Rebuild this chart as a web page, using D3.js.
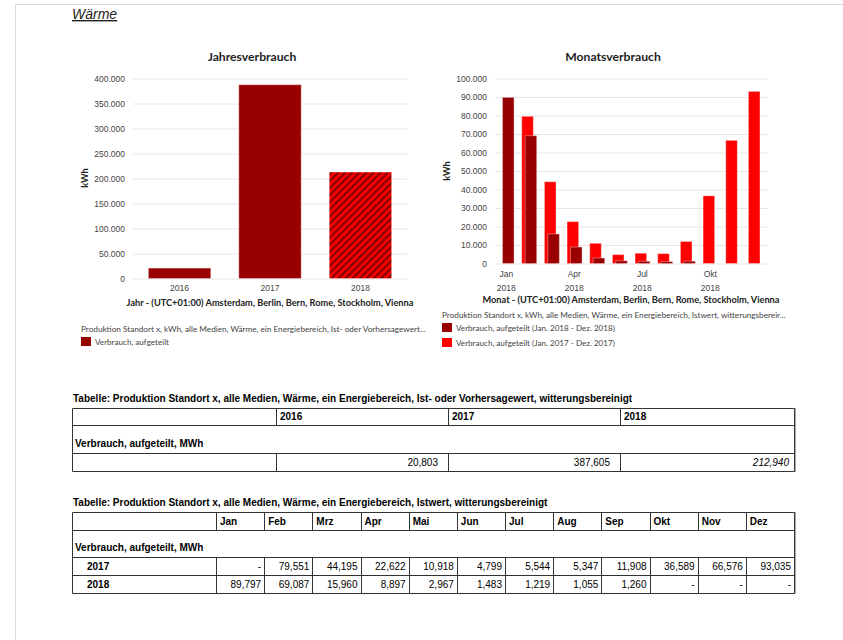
<!DOCTYPE html>
<html>
<head>
<meta charset="utf-8">
<script src="https://cdn.jsdelivr.net/npm/d3@7"></script>
<style>
  body { margin: 0; background: #fff; }
  svg { display: block; }
  .heading   { font: italic 14px "Liberation Sans", Arial, sans-serif; fill: #222; text-decoration: underline; }
  .ch-title  { font: bold 12.2px Lato, sans-serif; fill: #222; }
  .ax-title  { font: bold 9.2px Lato, sans-serif; fill: #222; }
  .tick-lbl  { font: 8.5px "Liberation Sans", Arial, sans-serif; fill: #444; }
  .lg-title  { font: 8.2px Lato, sans-serif; fill: #444; }
  .lg-item   { font: 8.1px Lato, sans-serif; fill: #444; }
  .tb-cap    { font: bold 10px "Liberation Sans", Arial, sans-serif; fill: #000; }
  .tb-bold   { font: bold 10px "Liberation Sans", Arial, sans-serif; fill: #000; }
  .tb-num    { font: 10px "Liberation Sans", Arial, sans-serif; fill: #000; }
</style>
</head>
<body>
<svg id="page" width="843" height="640"></svg>
<script>
'use strict';

// ── Data ─────────────────────────────────────────────────────
const years        = ['2016', '2017', '2018'];
const annualValues = [20803, 387605, 212940];
const annualTicks  = [0, 50000, 100000, 150000, 200000, 250000, 300000, 350000, 400000];

const months       = ['Jan', 'Feb', 'Mrz', 'Apr', 'Mai', 'Jun', 'Jul', 'Aug', 'Sep', 'Okt', 'Nov', 'Dez'];
const cons2017     = [null, 79551, 44195, 22622, 10918, 4799, 5544, 5347, 11908, 36589, 66576, 93035];
const cons2018     = [89797, 69087, 15960, 8897, 2967, 1483, 1219, 1055, 1260, null, null, null];
const monthlyTicks = [0, 10000, 20000, 30000, 40000, 50000, 60000, 70000, 80000, 90000, 100000];
const monthLabels  = ['Jan', 'Apr', 'Jul', 'Okt'];
const monthYear    = '2018';

const DARK = '#990000';
const RED  = '#ff0000';

const deFmt = d3.formatLocale({ decimal: ',', thousands: '.', grouping: [3], currency: ['', '€'] }).format(',');
const enFmt = d3.format(',');

const svg = d3.select('#page');

// ── Frame + heading ──────────────────────────────────────────
svg.append('path').attr('d', 'M15.5,640V4.5H843')
  .attr('fill', 'none').attr('stroke', '#d9d9d9');
svg.append('text').attr('class', 'heading').attr('x', 72).attr('y', 19).text('Wärme');

// hatch for the 2018 forecast bar
const pat = svg.append('defs').append('pattern')
  .attr('id', 'hatch').attr('patternUnits', 'userSpaceOnUse')
  .attr('width', 5).attr('height', 5).attr('patternTransform', 'rotate(45)');
pat.append('rect').attr('width', 5).attr('height', 5).attr('fill', RED);
pat.append('rect').attr('width', 2.4).attr('height', 5).attr('fill', '#8a0000');

// ── Shared helpers ───────────────────────────────────────────
function yAxis(g, y, ticks, left, right, labelX) {
  g.append('g').attr('transform', `translate(${left},0)`)
    .call(d3.axisLeft(y).tickValues(ticks).tickSize(-(right - left)).tickFormat(''))
    .call(s => s.select('.domain').remove())
    .call(s => s.selectAll('line').attr('stroke', '#e6e6e6'));
  g.append('g').attr('transform', `translate(${labelX},0)`)
    .call(d3.axisLeft(y).tickValues(ticks).tickSize(0).tickPadding(0).tickFormat(deFmt))
    .call(s => s.select('.domain').remove())
    .call(s => s.attr('font-size', null).attr('font-family', null))
    .call(s => s.selectAll('text').attr('class', 'tick-lbl'));
}

function kwh(g, cx, cy) {
  g.append('text').attr('class', 'ax-title')
    .attr('transform', `translate(${cx},${cy}) rotate(-90)`)
    .attr('text-anchor', 'middle').attr('dy', '0.35em').text('kWh');
}

function legendItem(g, x, y, color, label) {
  g.append('rect').attr('x', x).attr('y', y).attr('width', 10).attr('height', 9).attr('fill', color);
  g.append('text').attr('class', 'lg-item').attr('x', x + 14).attr('y', y + 7.5).text(label);
}

// ── Jahresverbrauch ──────────────────────────────────────────
(function drawAnnual() {
  const g = svg.append('g');
  const left = 133, right = 407;
  const x = d3.scaleBand().domain(years).range([left, right]).paddingInner(0.31).paddingOuter(0.17);
  const y = d3.scaleLinear().domain([0, 400000]).range([278.5, 78.5]);

  g.append('text').attr('class', 'ch-title').attr('x', 252).attr('y', 61)
    .attr('text-anchor', 'middle').text('Jahresverbrauch');

  yAxis(g, y, annualTicks, left, right, 125);
  kwh(g, 85, 178);

  g.append('g').selectAll('rect').data(years).join('rect')
    .attr('x', d => x(d))
    .attr('y', (d, i) => y(annualValues[i]))
    .attr('width', x.bandwidth())
    .attr('height', (d, i) => y(0) - y(annualValues[i]))
    .attr('fill', d => d === '2018' ? 'url(#hatch)' : DARK)
    .attr('stroke', '#fff').attr('stroke-opacity', 0.35);

  g.append('g').attr('transform', 'translate(0,285)')
    .call(d3.axisBottom(x).tickSize(0).tickPadding(0))
    .call(s => s.select('.domain').remove())
    .call(s => s.attr('font-size', null).attr('font-family', null))
    .call(s => s.selectAll('text').attr('class', 'tick-lbl'));

  g.append('text').attr('class', 'ax-title').attr('x', (left + right) / 2).attr('y', 306)
    .attr('text-anchor', 'middle')
    .text('Jahr - (UTC+01:00) Amsterdam, Berlin, Bern, Rome, Stockholm, Vienna');

  g.append('text').attr('class', 'lg-title').attr('x', 81).attr('y', 332)
    .text('Produktion Standort x, kWh, alle Medien, Wärme, ein Energiebereich, Ist- oder Vorhersagewert...');
  legendItem(g, 81, 337, DARK, 'Verbrauch, aufgeteilt');
})();

// ── Monatsverbrauch ──────────────────────────────────────────
(function drawMonthly() {
  const g = svg.append('g');
  const left = 495, right = 767;
  const x = d3.scaleBand().domain(months).range([left, right]);
  const y = d3.scaleLinear().domain([0, 100000]).range([263.5, 78.5]);
  const bw = x.bandwidth();

  g.append('text').attr('class', 'ch-title').attr('x', 613).attr('y', 61)
    .attr('text-anchor', 'middle').text('Monatsverbrauch');

  yAxis(g, y, monthlyTicks, left, right, 487);
  kwh(g, 447, 171);

  const series = [
    { values: cons2017, color: RED,  off: 0.18 },
    { values: cons2018, color: DARK, off: 0.33 },
  ];
  series.forEach(s => {
    g.append('g').selectAll('rect')
      .data(months.map((m, i) => ({ m, v: s.values[i] })).filter(d => d.v != null))
      .join('rect')
      .attr('x', d => x(d.m) + bw * s.off)
      .attr('y', d => y(d.v))
      .attr('width', bw * 0.51)
      .attr('height', d => y(0) - y(d.v))
      .attr('fill', s.color)
      .attr('stroke', '#fff').attr('stroke-opacity', 0.35);
  });

  const lbl = g.append('g').selectAll('text').data(monthLabels).join('text')
    .attr('class', 'tick-lbl').attr('text-anchor', 'middle')
    .attr('x', d => x(d) + bw / 2).attr('y', 277);
  lbl.append('tspan').text(d => d);
  lbl.append('tspan').attr('x', d => x(d) + bw / 2).attr('dy', 14).text(monthYear);

  g.append('text').attr('class', 'ax-title').attr('x', (left + right) / 2).attr('y', 303)
    .attr('text-anchor', 'middle')
    .text('Monat - (UTC+01:00) Amsterdam, Berlin, Bern, Rome, Stockholm, Vienna');

  g.append('text').attr('class', 'lg-title').attr('x', 442).attr('y', 318)
    .text('Produktion Standort x, kWh, alle Medien, Wärme, ein Energiebereich, Istwert, witterungsbereir...');
  legendItem(g, 442, 323, DARK, 'Verbrauch, aufgeteilt (Jan. 2018 - Dez. 2018)');
  legendItem(g, 442, 338, RED,  'Verbrauch, aufgeteilt (Jan. 2017 - Dez. 2017)');
})();

// ── Tables ───────────────────────────────────────────────────
function drawTable(cfg) {
  const g = svg.append('g');
  g.append('text').attr('class', 'tb-cap').attr('x', cfg.x0 + 1).attr('y', cfg.top - 6).text(cfg.caption);

  const cols = cfg.cols;
  const x0 = cols[0], x1 = cols[cols.length - 1];
  let yy = cfg.top;
  const lines = [];
  cfg.rows.forEach(r => {
    const yA = yy, yB = yy + r.h;
    if (r.span) {
      g.append('text').attr('class', 'tb-bold').attr('x', x0 + 3).attr('y', yB - 6).text(r.span);
    } else {
      r.cells.forEach((c, i) => {
        if (c == null || c.text === '') return;
        const right = c.align === 'right';
        g.append('text').attr('class', c.cls)
          .attr('x', right ? cols[i + 1] - (c.pad ?? 4) : cols[i] + (c.pad ?? 4))
          .attr('y', yB - 5)
          .attr('text-anchor', right ? 'end' : 'start')
          .style('font-style', c.italic ? 'italic' : null)
          .text(c.text);
      });
      cols.slice(1, -1).forEach(cx => lines.push([cx, yA, cx, yB]));
    }
    lines.push([x0, yB, x1, yB]);
    yy = yB;
  });
  lines.push([x0, cfg.top, x1, cfg.top], [x0, cfg.top, x0, yy], [x1, cfg.top, x1, yy]);
  g.append('g').selectAll('line').data(lines).join('line')
    .attr('x1', d => Math.round(d[0]) + 0.5).attr('y1', d => Math.round(d[1]) + 0.5)
    .attr('x2', d => Math.round(d[2]) + 0.5).attr('y2', d => Math.round(d[3]) + 0.5)
    .attr('stroke', '#333');
  g.append('line').attr('x1', x1 + 1.5).attr('x2', x1 + 1.5)
    .attr('y1', cfg.top).attr('y2', yy + 1).attr('stroke', '#aaa');
}

drawTable({
  caption: 'Tabelle: Produktion Standort x, alle Medien, Wärme, ein Energiebereich, Ist- oder Vorhersagewert, witterungsbereinigt',
  x0: 72, top: 408,
  cols: [72, 276, 448, 620, 794],
  rows: [
    { h: 17, cells: [null].concat(years.map(t => ({ text: t, cls: 'tb-bold' }))) },
    { h: 28, span: 'Verbrauch, aufgeteilt, MWh' },
    { h: 18, cells: [null].concat(annualValues.map((v, i) => ({
      text: enFmt(v), cls: 'tb-num', align: 'right', pad: i === 2 ? 5 : 10, italic: i === 2 }))) },
  ],
});

const mCols = [72].concat(d3.range(13).map(i => 216 + i * (794 - 216) / 12));
const dash = v => v == null ? '-' : enFmt(v);
drawTable({
  caption: 'Tabelle: Produktion Standort x, alle Medien, Wärme, ein Energiebereich, Istwert, witterungsbereinigt',
  x0: 72, top: 512,
  cols: mCols,
  rows: [
    { h: 18, cells: [null].concat(months.map(t => ({ text: t, cls: 'tb-bold' }))) },
    { h: 27, span: 'Verbrauch, aufgeteilt, MWh' },
    { h: 18, cells: [{ text: '2017', cls: 'tb-bold', pad: 15 }].concat(cons2017.map(v => ({ text: dash(v), cls: 'tb-num', align: 'right', pad: 3 }))) },
    { h: 18, cells: [{ text: '2018', cls: 'tb-bold', pad: 15 }].concat(cons2018.map(v => ({ text: dash(v), cls: 'tb-num', align: 'right', pad: 3 }))) },
  ],
});
</script>
</body>
</html>
